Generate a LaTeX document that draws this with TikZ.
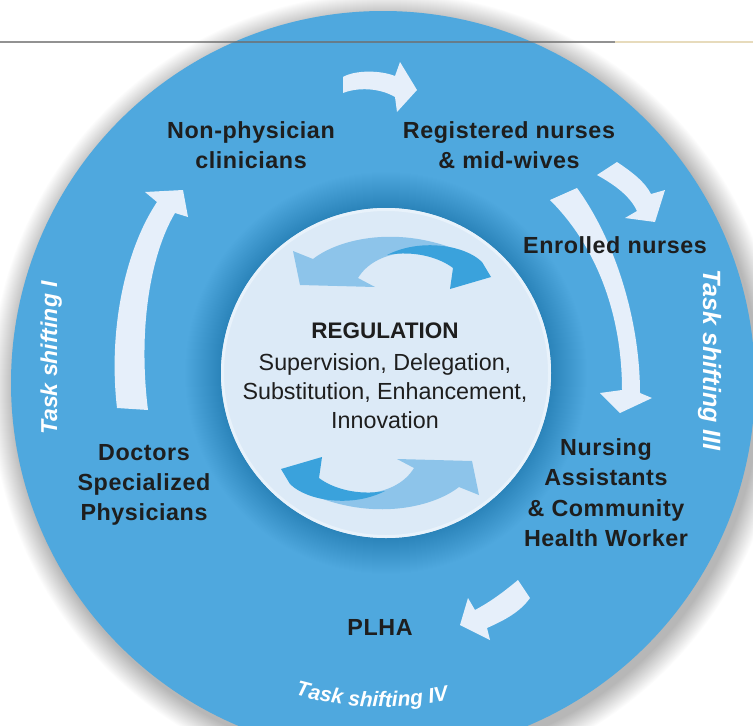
\documentclass[tikz,border=0pt]{standalone}
\usepackage{fontspec}
\setmainfont{Liberation Sans}
\newfontfamily\labfont[LetterSpace=2.5]{Liberation Sans}
\usetikzlibrary{decorations.text}
\definecolor{disc}{RGB}{79,168,222}
\definecolor{hub}{RGB}{220,234,247}
\definecolor{hubrim}{RGB}{232,242,251}
\definecolor{flow}{RGB}{230,239,250}
\definecolor{cyclelight}{RGB}{141,196,234}
\definecolor{cycledark}{RGB}{58,162,220}
\definecolor{ink}{RGB}{30,30,30}
\definecolor{rule}{RGB}{110,110,110}
\definecolor{rulegold}{RGB}{222,205,160}

\begin{document}
\begin{tikzpicture}[x=1pt,y=-1pt,
  role/.style={font=\labfont\bfseries\fontsize{23.3}{30}\selectfont, text=ink, align=center, inner sep=0pt},
  phase/.style={font=\bfseries\itshape\fontsize{23}{28}\selectfont, text=white, inner sep=0pt},
  flowarrow/.style={fill=flow},
]
\useasboundingbox (0,0) rectangle (753,726);
\fill[white] (0,0) rectangle (753,726);

\coordinate (c) at (383,383);   % centre of the disc
\coordinate (cs) at (387,389);  % centre of its shadow
\coordinate (h) at (386,373);   % centre of the hub

% soft shadow under the disc
\foreach \i in {1,...,24}
  \fill[black,opacity=0.010] (cs) circle[radius={(372+\i)*1pt}];

% the disc
\fill[disc] (c) circle[radius=372pt];

% faint halo around the hub
\foreach \i in {1,...,36}
  \fill[black,opacity=0.0042] (h) circle[radius={(165+\i)*1pt}];

% flow arrows round the ring
% top: non-physician clinicians -> registered nurses
\fill[flowarrow] (343,77) .. controls (355,70) and (380,70) .. (395,76)
  -- (400,62) -- (417,90) -- (397,112) -- (395,97)
  .. controls (380,88) and (358,87) .. (343,93) -- cycle;
% registered nurses -> enrolled nurses
\fill[flowarrow] (617,162) .. controls (632,172) and (645,182) .. (651,194)
  -- (665,190) -- (655,222) -- (625,218) -- (637,211)
  .. controls (630,196) and (615,185) .. (597,175) -- cycle;
% registered nurses -> nursing assistants
\fill[flowarrow] (577,188) .. controls (615,240) and (640,320) .. (640,393)
  -- (652,398) -- (620,413) -- (600,393) -- (622,390)
  .. controls (622,320) and (600,250) .. (550,200) -- cycle;
% nursing assistants -> PLHA
\fill[flowarrow] (518,580) .. controls (500,595) and (488,603) .. (475,610)
  -- (468,598) -- (460,625) -- (490,640) -- (487,628)
  .. controls (505,620) and (520,612) .. (530,598) -- cycle;
% doctors -> non-physician clinicians
\fill[flowarrow] (117,408) .. controls (108,330) and (125,250) .. (157,202)
  -- (145,192) -- (183,190) -- (188,217) -- (175,213)
  .. controls (150,255) and (138,330) .. (148,410) -- cycle;

% the hub
\fill[hub] (h) circle[radius=165pt];
\draw[hubrim, line width=3pt] (h) circle[radius=163.5pt];

% pair of cycle arrows, drawn once and turned half round for the lower pair
\foreach \turn in {0,180}{
  \begin{scope}[rotate around={\turn:(h)}]
    \fill[cyclelight] (293,251) -- (313,259)
      .. controls (340,238) and (400,225) .. (462,252) -- (462,262)
      .. controls (420,245) and (375,250) .. (358,278)
      -- (375,287) -- (300,285) -- cycle;
    \fill[cycledark] (387,255)
      .. controls (420,238) and (465,245) .. (482,262)
      -- (491,277) -- (450,289) -- (453,268)
      .. controls (440,258) and (415,250) .. (387,255) -- cycle;
  \end{scope}
}

% hub text
\node[font=\bfseries\fontsize{22.5}{27}\selectfont, text=ink, inner sep=0pt, anchor=base]
  (reg) at (385,338) {REGULATION};
\node[font=\fontsize{23.3}{29}\selectfont, text=ink, align=center, inner sep=0pt, anchor=north]
  (regtext) at (385,353) {Supervision, Delegation,\\Substitution, Enhancement,\\Innovation};

% cadres round the ring
\node[role, anchor=north] (nonphys) at (251,121) {Non-physician\\clinicians};
\node[role, anchor=north] (regnurse) at (509,121) {Registered nurses\\\& mid-wives};
\node[role, anchor=base] (enrolled) at (615,253) {Enrolled nurses};
\node[role, anchor=north] (doctors) at (144,444) {Doctors\\Specialized\\Physicians};
\node[role, anchor=north, font=\labfont\bfseries\fontsize{23.3}{30.5}\selectfont]
  (nursing) at (606,438) {Nursing\\Assistants\\\& Community\\Health Worker};
\node[role, anchor=base] (plha) at (380,635) {PLHA};

% task shifting phases
\node[phase, rotate=90, anchor=base] (ts1) at (57,358) {Task shifting I};
\node[phase, rotate=-90, anchor=base, font=\bfseries\itshape\fontsize{25}{30}\selectfont]
  (ts3) at (703,360) {Task shifting III};
\path[decorate, decoration={text along path, text align=center,
    text={|\bfseries\itshape\fontsize{21}{24}\selectfont\color{white}|Task shifting IV}}]
  (c) ++(238:324pt) arc[start angle=238, end angle=298, radius=324pt];

% header rule
\draw[rule, line width=1.3pt, opacity=.75] (0,42) -- (615,42);
\draw[rulegold, line width=1.3pt, opacity=.7] (615,42) -- (753,42);
\end{tikzpicture}
\end{document}
